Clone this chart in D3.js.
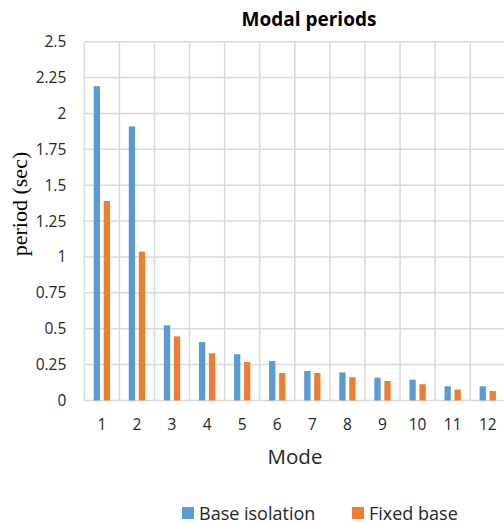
<!DOCTYPE html>
<html>
<head>
<meta charset="utf-8">
<script src="https://cdn.jsdelivr.net/npm/d3@7/dist/d3.min.js"></script>
<style>
  body { margin: 0; background: #fff; }
  svg { display: block; }
</style>
</head>
<body>
<div id="chart"></div>
<script>
// Chart data
const modes = ['1', '2', '3', '4', '5', '6', '7', '8', '9', '10', '11', '12'];
const seriesNames = ['Base isolation', 'Fixed base'];
const baseIsolation = [2.19, 1.91, 0.524, 0.408, 0.322, 0.275, 0.206, 0.196, 0.159, 0.145, 0.099, 0.099];
const fixedBase = [1.39, 1.037, 0.447, 0.329, 0.268, 0.192, 0.192, 0.162, 0.136, 0.113, 0.075, 0.066];
const yTicks = [0, 0.25, 0.5, 0.75, 1, 1.25, 1.5, 1.75, 2, 2.25, 2.5];

const colors = { 'Base isolation': '#5b9bd5', 'Fixed base': '#ed7d31' };
const font = '"Open Sans", "Noto Sans", sans-serif';
const textColor = '#262626';

const width = 504, height = 523;
const plot = { left: 84.3, right: 505.3, top: 41.7, bottom: 400.5 };

const svg = d3.select('#chart').append('svg')
    .attr('width', width)
    .attr('height', height);

// Scales
const x = d3.scaleBand()
    .domain(modes)
    .range([plot.left, plot.right])
    .padding(0);

const x1 = d3.scaleBand()
    .domain(seriesNames)
    .range([x.bandwidth() * 0.268, x.bandwidth() * 0.732])
    .paddingInner(0.37)
    .paddingOuter(0);

const y = d3.scaleLinear()
    .domain([0, 2.5])
    .range([plot.bottom, plot.top]);

// Grid lines
const grid = svg.append('g').attr('class', 'grid');
grid.selectAll('.h')
    .data(yTicks)
    .enter().append('line')
    .attr('x1', plot.left).attr('x2', plot.right)
    .attr('y1', d => y(d)).attr('y2', d => y(d))
    .attr('stroke', '#d9d9d9')
    .attr('stroke-width', 1.5);

grid.selectAll('.v')
    .data(modes.concat(['end']))
    .enter().append('line')
    .attr('x1', (d, i) => plot.left + i * x.step())
    .attr('x2', (d, i) => plot.left + i * x.step())
    .attr('y1', plot.top).attr('y2', plot.bottom)
    .attr('stroke', '#d9d9d9')
    .attr('stroke-width', 1.5);

// Bars
const rows = modes.map((m, i) => ({
    mode: m,
    values: [
        { series: 'Base isolation', value: baseIsolation[i] },
        { series: 'Fixed base', value: fixedBase[i] }
    ]
}));

const groups = svg.selectAll('.group')
    .data(rows)
    .enter().append('g')
    .attr('class', 'group')
    .attr('transform', d => `translate(${x(d.mode)},0)`);

groups.selectAll('rect')
    .data(d => d.values)
    .enter().append('rect')
    .attr('x', d => x1(d.series))
    .attr('width', x1.bandwidth())
    .attr('y', d => y(d.value))
    .attr('height', d => y(0) - y(d.value))
    .attr('fill', d => colors[d.series]);

// Y axis
const yAxis = svg.append('g')
    .attr('transform', `translate(${plot.left},0)`)
    .call(d3.axisLeft(y).tickValues(yTicks).tickSize(0).tickPadding(18)
        .tickFormat(d => String(d)));
yAxis.select('.domain').remove();
yAxis.selectAll('text')
    .attr('fill', textColor)
    .style('font-family', font)
    .style('font-size', '15.5px');

// X axis
const xAxis = svg.append('g')
    .attr('transform', `translate(0,${plot.bottom})`)
    .call(d3.axisBottom(x).tickSize(0).tickPadding(18));
xAxis.select('.domain').remove();
xAxis.selectAll('text')
    .attr('fill', textColor)
    .style('font-family', font)
    .style('font-size', '15.5px');

// Title
svg.append('text')
    .attr('x', 309)
    .attr('y', 26)
    .attr('text-anchor', 'middle')
    .style('font-family', font)
    .style('font-size', '19px')
    .style('font-weight', 'bold')
    .attr('fill', '#000')
    .text('Modal periods');

// Axis titles
svg.append('text')
    .attr('transform', 'translate(27,204) rotate(-90)')
    .attr('text-anchor', 'middle')
    .style('font-family', '"Liberation Serif", "DejaVu Serif", serif')
    .style('font-size', '22px')
    .attr('fill', '#000')
    .text('period (sec)');

svg.append('text')
    .attr('x', 295)
    .attr('y', 464)
    .attr('text-anchor', 'middle')
    .style('font-family', font)
    .style('font-size', '20.5px')
    .attr('fill', textColor)
    .text('Mode');

// Legend
const legendX = [182, 352];
const legend = svg.selectAll('.legend')
    .data(seriesNames)
    .enter().append('g')
    .attr('class', 'legend')
    .attr('transform', (d, i) => `translate(${legendX[i]},507)`);

legend.append('rect')
    .attr('width', 12)
    .attr('height', 12)
    .attr('fill', d => colors[d]);

legend.append('text')
    .attr('x', 17)
    .attr('y', 12.5)
    .style('font-family', font)
    .style('font-size', '18px')
    .attr('fill', textColor)
    .text(d => d);
</script>
</body>
</html>
